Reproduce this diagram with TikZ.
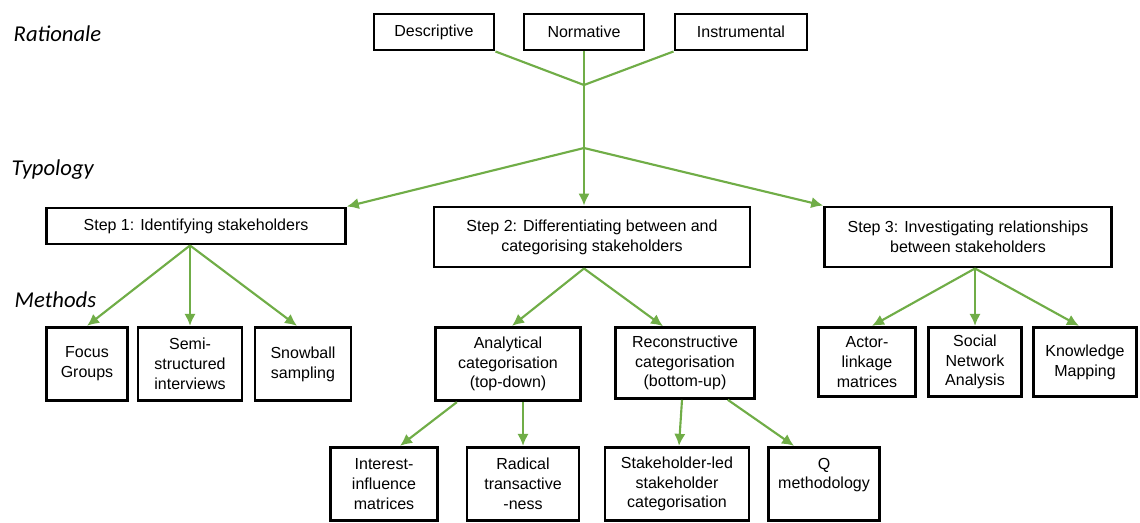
\documentclass[tikz,border=0pt]{standalone}
\usepackage{fontspec}
\setmainfont{Liberation Sans}
\newfontfamily\calibri{Carlito}
\usepackage{xcolor}
\usepackage{tikz}
\usetikzlibrary{arrows.meta,positioning,calc}
\definecolor{leaf}{HTML}{70AD47}

\begin{document}
\begin{tikzpicture}[x=0.75pt,y=-0.75pt,font=\fontsize{12}{14.8}\selectfont,
   box/.style 2 args={draw=black,line width=2.2pt,fill=white,align=center,inner sep=2pt,minimum width=#1,minimum height=#2},
   tier/.style={anchor=base west,font=\calibri\itshape\fontsize{17}{20}\selectfont},
   stem/.style={leaf,line width=1.6pt},
   link/.style={stem,-{Latex[length=9pt,width=8.5pt]}}]
  \useasboundingbox (0,0) rectangle (1140,522);
  \node[tier] (rat) at (9,41) {Rationale};
  \node[tier] (typ) at (7,175) {Typology};
  \node[tier] (met) at (10,307) {Methods};
  \node[box={90pt}{27pt}] (desc) at (434,32) {Descriptive};
  \node[box={90pt}{27pt}] (norm) at (584,32) {Normative};
  \node[box={99pt}{27pt}] (instr) at (741,32) {Instrumental};
  \coordinate (join) at (584,85);
  \coordinate (split) at (584,148);
  \draw[stem] (desc.south east) -- (join);
  \draw[stem] (instr.south west) -- (join);
  \draw[stem] (norm.south) -- (join) -- (split);
  \node[box={224pt}{27pt}] (step1) at (196,226) {Step 1: Identifying stakeholders};
  \node[box={237pt}{45pt}] (step2) at (592,237) {Step 2: Differentiating between and\\categorising stakeholders};
  \node[box={215pt}{45pt}] (step3) at (968,237) {Step 3: Investigating relationships\\between stakeholders};
  \draw[link] (split) -- (step1.north east);
  \draw[link] (split) -- (split |- step2.north);
  \draw[link] (split) -- (step3.north west);
  \node[box={61pt}{55pt}] (focus) at (87,364) {Focus\\Groups};
  \node[box={78pt}{55pt}] (semi) at (190,364) {Semi-\\structured\\interviews};
  \node[box={72pt}{55pt}] (snow) at (303,364) {Snowball\\sampling};
  \coordinate (s1) at ($(step1.south)+(-6,0)$);
  \draw[link] (s1) -- (focus.north);
  \draw[link] (s1) -- (s1 |- semi.north);
  \draw[link] (s1) -- ($(snow.north)+(-6,0)$);
  \node[box={109pt}{55pt}] (analyt) at (508,364) {Analytical\\categorisation\\(top-down)};
  \node[box={104pt}{53pt}] (recon) at (685,363) {Reconstructive\\categorisation\\(bottom-up)};
  \draw[link] (split |- step2.south) -- ($(analyt.north)+(4,0)$);
  \draw[link] (split |- step2.south) -- ($(recon.north)+(-22,0)$);
  \node[box={80pt}{55pt}] (interest) at (384,484) {Interest-\\influence\\matrices};
  \node[box={84pt}{55pt}] (radical) at (523,484) {Radical\\transactive\\-ness};
  \node[box={108pt}{55pt}] (sled) at (677,484) {Stakeholder-led\\stakeholder\\categorisation};
  \node[box={83pt}{55pt}] (qmeth) at (824,484) {Q\\methodology\\[1pt]};
  \draw[link] ($(analyt.south west)+(23,0)$) -- ($(interest.north)+(16,0)$);
  \draw[link] (radical.north |- analyt.south) -- (radical.north);
  \draw[link] ($(recon.south)+(-3,0)$) -- ($(sled.north)+(2,0)$);
  \draw[link] ($(recon.south east)+(-28,0)$) -- ($(qmeth.north)+(-30,0)$);
  \node[box={73pt}{52pt}] (actor) at (867,362) {Actor-\\linkage\\matrices};
  \node[box={70pt}{52pt}] (social) at (975,362) {Social\\Network\\Analysis};
  \node[box={77pt}{52pt}] (know) at (1085,362) {Knowledge\\Mapping};
  \coordinate (s3) at ($(step3.south)+(7,0)$);
  \draw[link] (s3) -- ($(actor.north)+(5,0)$);
  \draw[link] (s3) -- (social.north);
  \draw[link] (s3) -- ($(know.north)+(-6,0)$);
\end{tikzpicture}
\end{document}
